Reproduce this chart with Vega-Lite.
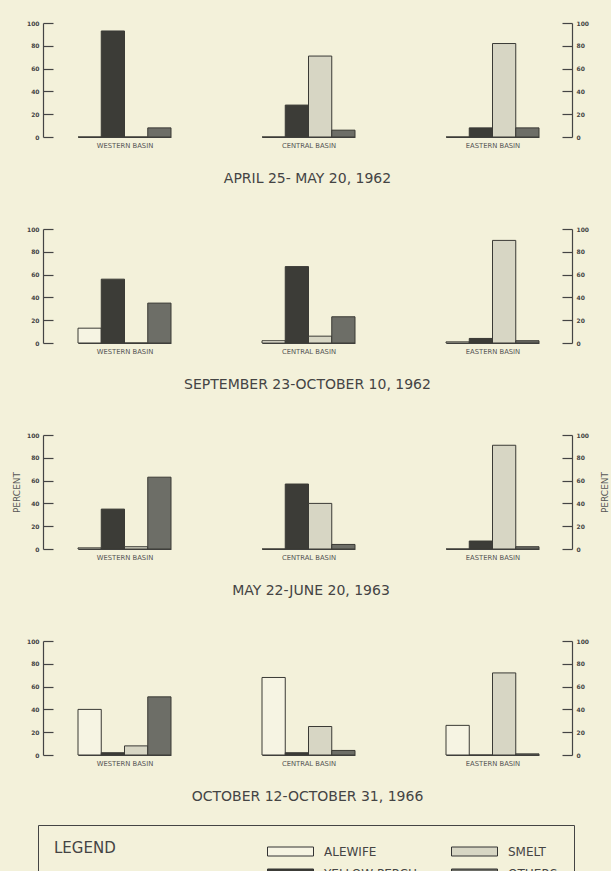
{
  "$schema": "https://vega.github.io/schema/vega-lite/v6.json",
  "padding": {"left": 12, "top": 20, "right": 5, "bottom": 5},
  "background": "#f3f1da",
  "datasets": {
    "fish": [
      {"period": "APRIL 25- MAY 20, 1962", "basin": "WESTERN BASIN", "species": "ALEWIFE", "percent": 0},
      {"period": "APRIL 25- MAY 20, 1962", "basin": "WESTERN BASIN", "species": "YELLOW PERCH", "percent": 93},
      {"period": "APRIL 25- MAY 20, 1962", "basin": "WESTERN BASIN", "species": "SMELT", "percent": 0},
      {"period": "APRIL 25- MAY 20, 1962", "basin": "WESTERN BASIN", "species": "OTHERS", "percent": 8},
      {"period": "APRIL 25- MAY 20, 1962", "basin": "CENTRAL BASIN", "species": "ALEWIFE", "percent": 0},
      {"period": "APRIL 25- MAY 20, 1962", "basin": "CENTRAL BASIN", "species": "YELLOW PERCH", "percent": 28},
      {"period": "APRIL 25- MAY 20, 1962", "basin": "CENTRAL BASIN", "species": "SMELT", "percent": 71},
      {"period": "APRIL 25- MAY 20, 1962", "basin": "CENTRAL BASIN", "species": "OTHERS", "percent": 6},
      {"period": "APRIL 25- MAY 20, 1962", "basin": "EASTERN BASIN", "species": "ALEWIFE", "percent": 0},
      {"period": "APRIL 25- MAY 20, 1962", "basin": "EASTERN BASIN", "species": "YELLOW PERCH", "percent": 8},
      {"period": "APRIL 25- MAY 20, 1962", "basin": "EASTERN BASIN", "species": "SMELT", "percent": 82},
      {"period": "APRIL 25- MAY 20, 1962", "basin": "EASTERN BASIN", "species": "OTHERS", "percent": 8},
      {"period": "SEPTEMBER 23-OCTOBER 10, 1962", "basin": "WESTERN BASIN", "species": "ALEWIFE", "percent": 13},
      {"period": "SEPTEMBER 23-OCTOBER 10, 1962", "basin": "WESTERN BASIN", "species": "YELLOW PERCH", "percent": 56},
      {"period": "SEPTEMBER 23-OCTOBER 10, 1962", "basin": "WESTERN BASIN", "species": "SMELT", "percent": 0},
      {"period": "SEPTEMBER 23-OCTOBER 10, 1962", "basin": "WESTERN BASIN", "species": "OTHERS", "percent": 35},
      {"period": "SEPTEMBER 23-OCTOBER 10, 1962", "basin": "CENTRAL BASIN", "species": "ALEWIFE", "percent": 2},
      {"period": "SEPTEMBER 23-OCTOBER 10, 1962", "basin": "CENTRAL BASIN", "species": "YELLOW PERCH", "percent": 67},
      {"period": "SEPTEMBER 23-OCTOBER 10, 1962", "basin": "CENTRAL BASIN", "species": "SMELT", "percent": 6},
      {"period": "SEPTEMBER 23-OCTOBER 10, 1962", "basin": "CENTRAL BASIN", "species": "OTHERS", "percent": 23},
      {"period": "SEPTEMBER 23-OCTOBER 10, 1962", "basin": "EASTERN BASIN", "species": "ALEWIFE", "percent": 1},
      {"period": "SEPTEMBER 23-OCTOBER 10, 1962", "basin": "EASTERN BASIN", "species": "YELLOW PERCH", "percent": 4},
      {"period": "SEPTEMBER 23-OCTOBER 10, 1962", "basin": "EASTERN BASIN", "species": "SMELT", "percent": 90},
      {"period": "SEPTEMBER 23-OCTOBER 10, 1962", "basin": "EASTERN BASIN", "species": "OTHERS", "percent": 2},
      {"period": "MAY 22-JUNE 20, 1963", "basin": "WESTERN BASIN", "species": "ALEWIFE", "percent": 1},
      {"period": "MAY 22-JUNE 20, 1963", "basin": "WESTERN BASIN", "species": "YELLOW PERCH", "percent": 35},
      {"period": "MAY 22-JUNE 20, 1963", "basin": "WESTERN BASIN", "species": "SMELT", "percent": 2},
      {"period": "MAY 22-JUNE 20, 1963", "basin": "WESTERN BASIN", "species": "OTHERS", "percent": 63},
      {"period": "MAY 22-JUNE 20, 1963", "basin": "CENTRAL BASIN", "species": "ALEWIFE", "percent": 0},
      {"period": "MAY 22-JUNE 20, 1963", "basin": "CENTRAL BASIN", "species": "YELLOW PERCH", "percent": 57},
      {"period": "MAY 22-JUNE 20, 1963", "basin": "CENTRAL BASIN", "species": "SMELT", "percent": 40},
      {"period": "MAY 22-JUNE 20, 1963", "basin": "CENTRAL BASIN", "species": "OTHERS", "percent": 4},
      {"period": "MAY 22-JUNE 20, 1963", "basin": "EASTERN BASIN", "species": "ALEWIFE", "percent": 0},
      {"period": "MAY 22-JUNE 20, 1963", "basin": "EASTERN BASIN", "species": "YELLOW PERCH", "percent": 7},
      {"period": "MAY 22-JUNE 20, 1963", "basin": "EASTERN BASIN", "species": "SMELT", "percent": 91},
      {"period": "MAY 22-JUNE 20, 1963", "basin": "EASTERN BASIN", "species": "OTHERS", "percent": 2},
      {"period": "OCTOBER 12-OCTOBER 31, 1966", "basin": "WESTERN BASIN", "species": "ALEWIFE", "percent": 40},
      {"period": "OCTOBER 12-OCTOBER 31, 1966", "basin": "WESTERN BASIN", "species": "YELLOW PERCH", "percent": 2},
      {"period": "OCTOBER 12-OCTOBER 31, 1966", "basin": "WESTERN BASIN", "species": "SMELT", "percent": 8},
      {"period": "OCTOBER 12-OCTOBER 31, 1966", "basin": "WESTERN BASIN", "species": "OTHERS", "percent": 51},
      {"period": "OCTOBER 12-OCTOBER 31, 1966", "basin": "CENTRAL BASIN", "species": "ALEWIFE", "percent": 68},
      {"period": "OCTOBER 12-OCTOBER 31, 1966", "basin": "CENTRAL BASIN", "species": "YELLOW PERCH", "percent": 2},
      {"period": "OCTOBER 12-OCTOBER 31, 1966", "basin": "CENTRAL BASIN", "species": "SMELT", "percent": 25},
      {"period": "OCTOBER 12-OCTOBER 31, 1966", "basin": "CENTRAL BASIN", "species": "OTHERS", "percent": 4},
      {"period": "OCTOBER 12-OCTOBER 31, 1966", "basin": "EASTERN BASIN", "species": "ALEWIFE", "percent": 26},
      {"period": "OCTOBER 12-OCTOBER 31, 1966", "basin": "EASTERN BASIN", "species": "YELLOW PERCH", "percent": 0},
      {"period": "OCTOBER 12-OCTOBER 31, 1966", "basin": "EASTERN BASIN", "species": "SMELT", "percent": 72},
      {"period": "OCTOBER 12-OCTOBER 31, 1966", "basin": "EASTERN BASIN", "species": "OTHERS", "percent": 1}
    ]
  },
  "data": {"name": "fish"},
  "spacing": 40,
  "vconcat": [
    {
      "title": {"text": "APRIL 25- MAY 20, 1962"},
      "hconcat": [
        {"width": 93, "height": 114, "transform": [{"filter": "datum.period === 'APRIL 25- MAY 20, 1962' && datum.basin === 'WESTERN BASIN'"}], "mark": "bar",
         "encoding": {
           "x": {"field": "species", "type": "nominal", "sort": ["ALEWIFE", "YELLOW PERCH", "SMELT", "OTHERS"], "scale": {"paddingInner": 0, "paddingOuter": 0}, "title": "WESTERN BASIN"},
           "y": {"field": "percent", "type": "quantitative", "scale": {"domain": [0, 100]}, "axis": {"orient": "left", "offset": 35, "values": [0, 20, 40, 60, 80, 100], "title": null}},
           "fill": {"field": "species", "type": "nominal", "title": "LEGEND", "scale": {"domain": ["ALEWIFE", "YELLOW PERCH", "SMELT", "OTHERS"], "range": ["#f6f4e3", "#3c3c37", "#d7d6c4", "#6d6e67"]}}
         }},
        {"width": 93, "height": 114, "transform": [{"filter": "datum.period === 'APRIL 25- MAY 20, 1962' && datum.basin === 'CENTRAL BASIN'"}], "mark": "bar",
         "encoding": {
           "x": {"field": "species", "type": "nominal", "sort": ["ALEWIFE", "YELLOW PERCH", "SMELT", "OTHERS"], "scale": {"paddingInner": 0, "paddingOuter": 0}, "title": "CENTRAL BASIN"},
           "y": {"field": "percent", "type": "quantitative", "scale": {"domain": [0, 100]}, "axis": null},
           "fill": {"field": "species", "type": "nominal", "title": "LEGEND", "scale": {"domain": ["ALEWIFE", "YELLOW PERCH", "SMELT", "OTHERS"], "range": ["#f6f4e3", "#3c3c37", "#d7d6c4", "#6d6e67"]}}
         }},
        {"width": 93, "height": 114, "transform": [{"filter": "datum.period === 'APRIL 25- MAY 20, 1962' && datum.basin === 'EASTERN BASIN'"}], "mark": "bar",
         "encoding": {
           "x": {"field": "species", "type": "nominal", "sort": ["ALEWIFE", "YELLOW PERCH", "SMELT", "OTHERS"], "scale": {"paddingInner": 0, "paddingOuter": 0}, "title": "EASTERN BASIN"},
           "y": {"field": "percent", "type": "quantitative", "scale": {"domain": [0, 100]}, "axis": {"orient": "right", "offset": 33, "values": [0, 20, 40, 60, 80, 100], "title": null}},
           "fill": {"field": "species", "type": "nominal", "title": "LEGEND", "scale": {"domain": ["ALEWIFE", "YELLOW PERCH", "SMELT", "OTHERS"], "range": ["#f6f4e3", "#3c3c37", "#d7d6c4", "#6d6e67"]}}
         }}
      ]
    },
    {
      "title": {"text": "SEPTEMBER 23-OCTOBER 10, 1962"},
      "hconcat": [
        {"width": 93, "height": 114, "transform": [{"filter": "datum.period === 'SEPTEMBER 23-OCTOBER 10, 1962' && datum.basin === 'WESTERN BASIN'"}], "mark": "bar",
         "encoding": {
           "x": {"field": "species", "type": "nominal", "sort": ["ALEWIFE", "YELLOW PERCH", "SMELT", "OTHERS"], "scale": {"paddingInner": 0, "paddingOuter": 0}, "title": "WESTERN BASIN"},
           "y": {"field": "percent", "type": "quantitative", "scale": {"domain": [0, 100]}, "axis": {"orient": "left", "offset": 35, "values": [0, 20, 40, 60, 80, 100], "title": null}},
           "fill": {"field": "species", "type": "nominal", "title": "LEGEND", "scale": {"domain": ["ALEWIFE", "YELLOW PERCH", "SMELT", "OTHERS"], "range": ["#f6f4e3", "#3c3c37", "#d7d6c4", "#6d6e67"]}}
         }},
        {"width": 93, "height": 114, "transform": [{"filter": "datum.period === 'SEPTEMBER 23-OCTOBER 10, 1962' && datum.basin === 'CENTRAL BASIN'"}], "mark": "bar",
         "encoding": {
           "x": {"field": "species", "type": "nominal", "sort": ["ALEWIFE", "YELLOW PERCH", "SMELT", "OTHERS"], "scale": {"paddingInner": 0, "paddingOuter": 0}, "title": "CENTRAL BASIN"},
           "y": {"field": "percent", "type": "quantitative", "scale": {"domain": [0, 100]}, "axis": null},
           "fill": {"field": "species", "type": "nominal", "title": "LEGEND", "scale": {"domain": ["ALEWIFE", "YELLOW PERCH", "SMELT", "OTHERS"], "range": ["#f6f4e3", "#3c3c37", "#d7d6c4", "#6d6e67"]}}
         }},
        {"width": 93, "height": 114, "transform": [{"filter": "datum.period === 'SEPTEMBER 23-OCTOBER 10, 1962' && datum.basin === 'EASTERN BASIN'"}], "mark": "bar",
         "encoding": {
           "x": {"field": "species", "type": "nominal", "sort": ["ALEWIFE", "YELLOW PERCH", "SMELT", "OTHERS"], "scale": {"paddingInner": 0, "paddingOuter": 0}, "title": "EASTERN BASIN"},
           "y": {"field": "percent", "type": "quantitative", "scale": {"domain": [0, 100]}, "axis": {"orient": "right", "offset": 33, "values": [0, 20, 40, 60, 80, 100], "title": null}},
           "fill": {"field": "species", "type": "nominal", "title": "LEGEND", "scale": {"domain": ["ALEWIFE", "YELLOW PERCH", "SMELT", "OTHERS"], "range": ["#f6f4e3", "#3c3c37", "#d7d6c4", "#6d6e67"]}}
         }}
      ]
    },
    {
      "title": {"text": "MAY 22-JUNE 20, 1963"},
      "hconcat": [
        {"width": 93, "height": 114, "transform": [{"filter": "datum.period === 'MAY 22-JUNE 20, 1963' && datum.basin === 'WESTERN BASIN'"}], "mark": "bar",
         "encoding": {
           "x": {"field": "species", "type": "nominal", "sort": ["ALEWIFE", "YELLOW PERCH", "SMELT", "OTHERS"], "scale": {"paddingInner": 0, "paddingOuter": 0}, "title": "WESTERN BASIN"},
           "y": {"field": "percent", "type": "quantitative", "scale": {"domain": [0, 100]}, "axis": {"orient": "left", "offset": 35, "values": [0, 20, 40, 60, 80, 100], "title": "PERCENT", "titlePadding": 5}},
           "fill": {"field": "species", "type": "nominal", "title": "LEGEND", "scale": {"domain": ["ALEWIFE", "YELLOW PERCH", "SMELT", "OTHERS"], "range": ["#f6f4e3", "#3c3c37", "#d7d6c4", "#6d6e67"]}}
         }},
        {"width": 93, "height": 114, "transform": [{"filter": "datum.period === 'MAY 22-JUNE 20, 1963' && datum.basin === 'CENTRAL BASIN'"}], "mark": "bar",
         "encoding": {
           "x": {"field": "species", "type": "nominal", "sort": ["ALEWIFE", "YELLOW PERCH", "SMELT", "OTHERS"], "scale": {"paddingInner": 0, "paddingOuter": 0}, "title": "CENTRAL BASIN"},
           "y": {"field": "percent", "type": "quantitative", "scale": {"domain": [0, 100]}, "axis": null},
           "fill": {"field": "species", "type": "nominal", "title": "LEGEND", "scale": {"domain": ["ALEWIFE", "YELLOW PERCH", "SMELT", "OTHERS"], "range": ["#f6f4e3", "#3c3c37", "#d7d6c4", "#6d6e67"]}}
         }},
        {"width": 93, "height": 114, "transform": [{"filter": "datum.period === 'MAY 22-JUNE 20, 1963' && datum.basin === 'EASTERN BASIN'"}], "mark": "bar",
         "encoding": {
           "x": {"field": "species", "type": "nominal", "sort": ["ALEWIFE", "YELLOW PERCH", "SMELT", "OTHERS"], "scale": {"paddingInner": 0, "paddingOuter": 0}, "title": "EASTERN BASIN"},
           "y": {"field": "percent", "type": "quantitative", "scale": {"domain": [0, 100]}, "axis": {"orient": "right", "offset": 33, "values": [0, 20, 40, 60, 80, 100], "title": "PERCENT", "titleAngle": 270, "titlePadding": 21}},
           "fill": {"field": "species", "type": "nominal", "title": "LEGEND", "scale": {"domain": ["ALEWIFE", "YELLOW PERCH", "SMELT", "OTHERS"], "range": ["#f6f4e3", "#3c3c37", "#d7d6c4", "#6d6e67"]}}
         }}
      ]
    },
    {
      "title": {"text": "OCTOBER 12-OCTOBER 31, 1966"},
      "hconcat": [
        {"width": 93, "height": 114, "transform": [{"filter": "datum.period === 'OCTOBER 12-OCTOBER 31, 1966' && datum.basin === 'WESTERN BASIN'"}], "mark": "bar",
         "encoding": {
           "x": {"field": "species", "type": "nominal", "sort": ["ALEWIFE", "YELLOW PERCH", "SMELT", "OTHERS"], "scale": {"paddingInner": 0, "paddingOuter": 0}, "title": "WESTERN BASIN"},
           "y": {"field": "percent", "type": "quantitative", "scale": {"domain": [0, 100]}, "axis": {"orient": "left", "offset": 35, "values": [0, 20, 40, 60, 80, 100], "title": null}},
           "fill": {"field": "species", "type": "nominal", "title": "LEGEND", "scale": {"domain": ["ALEWIFE", "YELLOW PERCH", "SMELT", "OTHERS"], "range": ["#f6f4e3", "#3c3c37", "#d7d6c4", "#6d6e67"]}}
         }},
        {"width": 93, "height": 114, "transform": [{"filter": "datum.period === 'OCTOBER 12-OCTOBER 31, 1966' && datum.basin === 'CENTRAL BASIN'"}], "mark": "bar",
         "encoding": {
           "x": {"field": "species", "type": "nominal", "sort": ["ALEWIFE", "YELLOW PERCH", "SMELT", "OTHERS"], "scale": {"paddingInner": 0, "paddingOuter": 0}, "title": "CENTRAL BASIN"},
           "y": {"field": "percent", "type": "quantitative", "scale": {"domain": [0, 100]}, "axis": null},
           "fill": {"field": "species", "type": "nominal", "title": "LEGEND", "scale": {"domain": ["ALEWIFE", "YELLOW PERCH", "SMELT", "OTHERS"], "range": ["#f6f4e3", "#3c3c37", "#d7d6c4", "#6d6e67"]}}
         }},
        {"width": 93, "height": 114, "transform": [{"filter": "datum.period === 'OCTOBER 12-OCTOBER 31, 1966' && datum.basin === 'EASTERN BASIN'"}], "mark": "bar",
         "encoding": {
           "x": {"field": "species", "type": "nominal", "sort": ["ALEWIFE", "YELLOW PERCH", "SMELT", "OTHERS"], "scale": {"paddingInner": 0, "paddingOuter": 0}, "title": "EASTERN BASIN"},
           "y": {"field": "percent", "type": "quantitative", "scale": {"domain": [0, 100]}, "axis": {"orient": "right", "offset": 33, "values": [0, 20, 40, 60, 80, 100], "title": null}},
           "fill": {"field": "species", "type": "nominal", "title": "LEGEND", "scale": {"domain": ["ALEWIFE", "YELLOW PERCH", "SMELT", "OTHERS"], "range": ["#f6f4e3", "#3c3c37", "#d7d6c4", "#6d6e67"]}}
         }}
      ]
    }
  ],
  "config": {
    "font": "DejaVu Sans",
    "view": {"stroke": null},
    "concat": {"spacing": 89},
    "bar": {"stroke": "#3a3a35", "strokeWidth": 1},
    "axisX": {"domain": true, "domainColor": "#444", "domainWidth": 1.2, "ticks": false, "labels": false, "grid": false, "titleFontSize": 6.8, "titleFontWeight": "normal", "titleColor": "#555", "titlePadding": 5},
    "axisY": {"domainColor": "#444", "domainWidth": 1.2, "tickColor": "#444", "tickWidth": 1.2, "tickSize": -10, "labelPadding": 14, "labelFontSize": 6, "labelFontWeight": "bold", "labelColor": "#444", "grid": false, "titleFontSize": 9, "titleFontWeight": "normal", "titleColor": "#555"},
    "title": {"orient": "bottom", "anchor": "middle", "offset": 23, "fontSize": 14, "fontWeight": "normal", "color": "#444", "font": "DejaVu Sans"},
    "legend": {
      "orient": "none", "legendX": -40, "legendY": 802,
      "columns": 2,
      "symbolType": "M-2.3,-0.45H2.3V0.45H-2.3Z",
      "symbolSize": 400,
      "symbolStrokeColor": "#333", "symbolStrokeWidth": 1,
      "labelFontSize": 12, "labelColor": "#444", "labelOffset": 23,
      "columnPadding": 32, "rowPadding": 5,
      "titleOrient": "left", "titleAnchor": "start", "titleBaseline": "top", "titleFontSize": 15, "titleFontWeight": "normal", "titleColor": "#444", "titlePadding": 164,
      "strokeColor": "#444", "padding": 16
    }
  }
}
